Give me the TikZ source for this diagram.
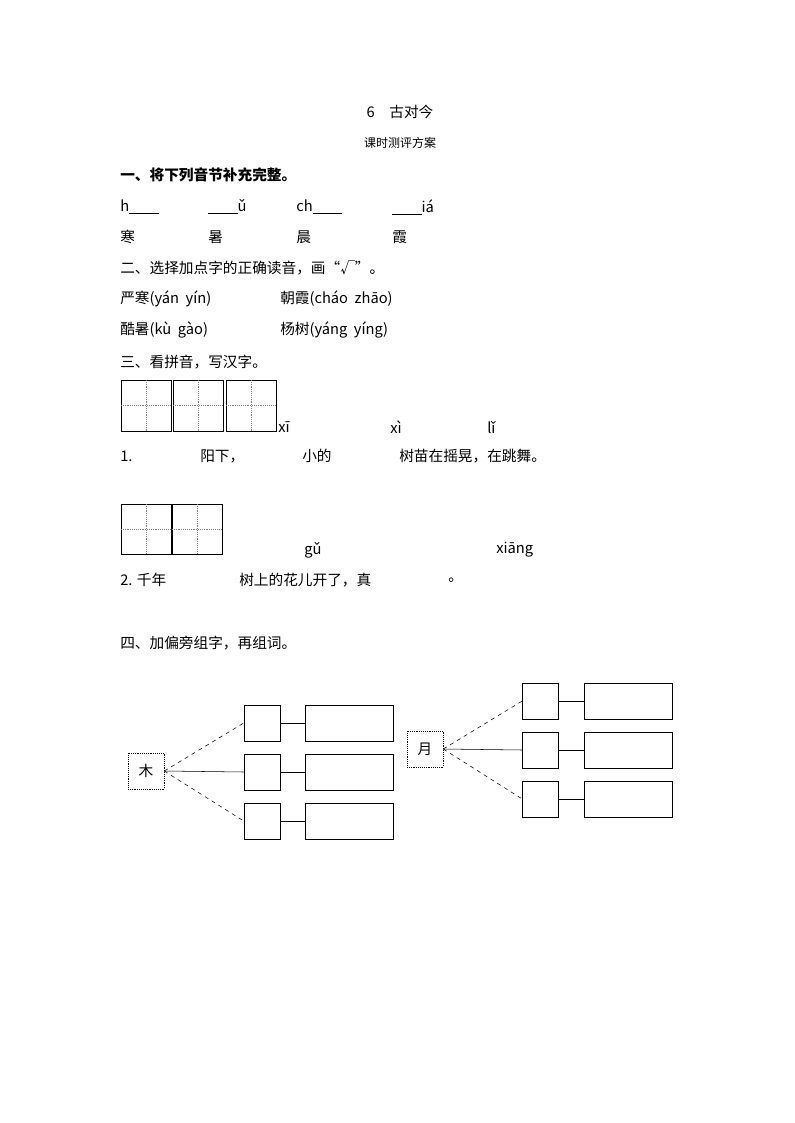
\documentclass[tikz,border=0pt]{standalone}
\usepackage{fontspec}
\setmainfont{Liberation Serif}
\newfontfamily\cjk{Noto Sans CJK SC}
\begin{document}
\begin{tikzpicture}[x=0.75pt,y=-0.75pt,
  txt/.style={anchor=west,inner sep=0,font=\cjk\fontsize{11}{13}\selectfont},
  tian/.style={draw,thin},
  sbox/.style={draw,thin,minimum width=27pt,minimum height=27pt,inner sep=0},
  bbox/.style={draw,thin,minimum width=66pt,minimum height=27pt,inner sep=0},
  cbox/.style={draw,thin,densely dotted,minimum width=27pt,minimum height=27pt,inner sep=0,font=\cjk\fontsize{11}{13}\selectfont}]
\useasboundingbox (0,0) rectangle (794,1123);
\node[inner sep=0,font=\cjk\fontsize{11}{13}\selectfont] (t1) at (400,112) {6\quad 古对今};
\node[inner sep=0,font=\cjk\fontsize{9}{11}\selectfont] (t2) at (400,143) {课时测评方案};
\node[txt] (s1) at (120,175) {\bfseries 一、将下列音节补充完整。};
\node[txt] (p1) at (120,207) {h\underline{\hspace{22pt}}};
\node[txt] (p2) at (208,207) {\underline{\hspace{22pt}}ǔ};
\node[txt] (p3) at (296,207) {ch\underline{\hspace{22pt}}};
\node[txt] (p4) at (392,207) {\underline{\hspace{22pt}}iá};
\node[txt] (c1) at (120,237) {寒};
\node[txt] (c2) at (208,237) {暑};
\node[txt] (c3) at (296,237) {晨};
\node[txt] (c4) at (392,237) {霞};
\node[txt] (s2) at (120,268) {二、选择加点字的正确读音，画“√”。};
\node[txt] (q1) at (120,299) {严寒(yán\ \ yín)};
\node[txt] (q2) at (280,299) {朝霞(cháo\ \ zhāo)};
\node[txt] (q3) at (120,330) {酷暑(kù\ \ gào)};
\node[txt] (q4) at (280,330) {杨树(yáng\ \ yíng)};
\node[txt] (s3) at (120,362) {三、看拼音，写汉字。};
\foreach \x in {121,173,226}{
  \draw[tian] (\x,380) rectangle ++(50,51);
  \draw[densely dotted,gray] (\x+25,380) -- ++(0,51) (\x,405.5) -- ++(50,0);}
\foreach \x in {121,172}{
  \draw[tian] (\x,504) rectangle ++(50,50);
  \draw[densely dotted,gray] (\x+25,504) -- ++(0,50) (\x,529) -- ++(50,0);}
\node[txt] (y1) at (278,427) {xī};
\node[txt] (y2) at (390,427) {xì};
\node[txt] (y3) at (487,427) {lǐ};
\node[txt] (l1a) at (120,456) {1.};
\node[txt] (l1b) at (200,456) {阳下，};
\node[txt] (l1c) at (302,456) {小的};
\node[txt] (l1d) at (399,456) {树苗在摇晃，在跳舞。};
\node[txt] (y4) at (304,550) {gǔ};
\node[txt] (y5) at (496,550) {xiāng};
\node[txt] (l2a) at (120,580) {2. 千年};
\node[txt] (l2b) at (239,580) {树上的花儿开了，真};
\node[txt] (l2c) at (448,580) {。};
\node[txt] (s4) at (120,643) {四、加偏旁组字，再组词。};
% tree
\node[cbox] (mu) at (146,771) {木};
\node[cbox] (yue) at (425,749) {月};
\foreach \i/\y in {1/723,2/772,3/821}{
  \node[sbox] (a\i) at (262,\y) {};
  \node[bbox] (b\i) at (349.5,\y) {};
  \draw (a\i) -- (b\i);}
\foreach \i/\y in {1/701,2/750,3/799}{
  \node[sbox] (c\i) at (540.5,\y) {};
  \node[bbox] (d\i) at (628,\y) {};
  \draw (c\i) -- (d\i);}
\draw[dashed] (mu.east) -- (a1.west);
\draw (mu.east) -- (a2.west);
\draw[dashed] (mu.east) -- (a3.west);
\draw[dashed] (yue.east) -- (c1.west);
\draw (yue.east) -- (c2.west);
\draw[dashed] (yue.east) -- (c3.west);
\end{tikzpicture}
\end{document}
